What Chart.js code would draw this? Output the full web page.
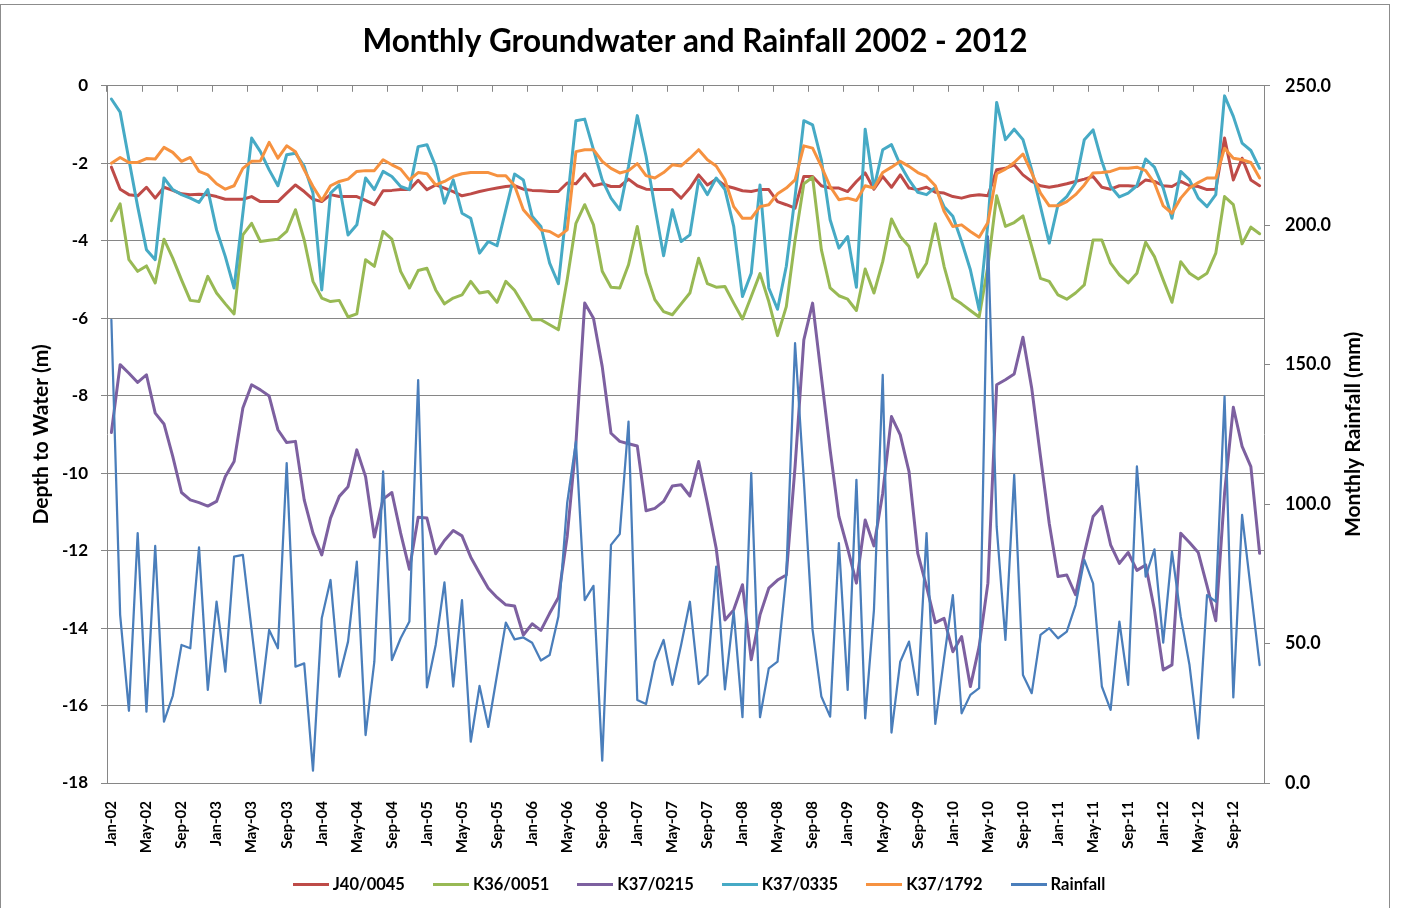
<!DOCTYPE html>
<html>
<head>
<meta charset="utf-8">
<title>Monthly Groundwater and Rainfall 2002 - 2012</title>
<script src="https://cdn.jsdelivr.net/npm/chart.js@4.4.1/dist/chart.umd.min.js"></script>
<style>
  html, body { margin: 0; padding: 0; background: #fff; }
  #wrap { position: relative; width: 1402px; height: 908px; overflow: hidden; }
  #myChart { position: absolute; left: 0; top: 0; }
  #frame { position: absolute; left: 0; top: 4px; width: 1390px; height: 910px; border: 1px solid #8c8c8c; box-sizing: border-box; pointer-events: none; }
  #legend { position: absolute; left: 0; top: 874px; width: 1398px; height: 20px; display: flex; justify-content: center; align-items: center; gap: 28px;
            font: bold 16.5px Lato, "Liberation Sans", sans-serif; color: #000; line-height: 20px; }
  #legend .item { display: flex; align-items: center; white-space: nowrap; }
  #legend .swatch { display: inline-block; width: 36px; height: 3px; margin-right: 4px; }
</style>
</head>
<body>
<div id="wrap">
  <canvas id="myChart" width="1390" height="908"></canvas>
  <div id="legend"></div>
  <div id="frame"></div>
</div>
<script>
//data

const chartTitle = 'Monthly Groundwater and Rainfall 2002 - 2012';
const depthAxisTitle = 'Depth to Water (m)';
const rainAxisTitle = 'Monthly Rainfall (mm)';

const months = [
  'Jan-02','Feb-02','Mar-02','Apr-02','May-02','Jun-02','Jul-02','Aug-02','Sep-02','Oct-02','Nov-02','Dec-02',
  'Jan-03','Feb-03','Mar-03','Apr-03','May-03','Jun-03','Jul-03','Aug-03','Sep-03','Oct-03','Nov-03','Dec-03',
  'Jan-04','Feb-04','Mar-04','Apr-04','May-04','Jun-04','Jul-04','Aug-04','Sep-04','Oct-04','Nov-04','Dec-04',
  'Jan-05','Feb-05','Mar-05','Apr-05','May-05','Jun-05','Jul-05','Aug-05','Sep-05','Oct-05','Nov-05','Dec-05',
  'Jan-06','Feb-06','Mar-06','Apr-06','May-06','Jun-06','Jul-06','Aug-06','Sep-06','Oct-06','Nov-06','Dec-06',
  'Jan-07','Feb-07','Mar-07','Apr-07','May-07','Jun-07','Jul-07','Aug-07','Sep-07','Oct-07','Nov-07','Dec-07',
  'Jan-08','Feb-08','Mar-08','Apr-08','May-08','Jun-08','Jul-08','Aug-08','Sep-08','Oct-08','Nov-08','Dec-08',
  'Jan-09','Feb-09','Mar-09','Apr-09','May-09','Jun-09','Jul-09','Aug-09','Sep-09','Oct-09','Nov-09','Dec-09',
  'Jan-10','Feb-10','Mar-10','Apr-10','May-10','Jun-10','Jul-10','Aug-10','Sep-10','Oct-10','Nov-10','Dec-10',
  'Jan-11','Feb-11','Mar-11','Apr-11','May-11','Jun-11','Jul-11','Aug-11','Sep-11','Oct-11','Nov-11','Dec-11',
  'Jan-12','Feb-12','Mar-12','Apr-12','May-12','Jun-12','Jul-12','Aug-12','Sep-12','Oct-12','Nov-12','Dec-12'
];

// depth to water (m), one value per month
const j40_0045 = [
  -2.10,-2.67,-2.81,-2.84,-2.62,-2.90,-2.62,-2.70,-2.79,-2.81,-2.80,-2.81,-2.86,-2.93,-2.93,-2.93,-2.86,-2.99,-2.99,-2.99,-2.77,-2.56,
  -2.73,-2.93,-2.99,-2.81,-2.86,-2.86,-2.86,-2.96,-3.07,-2.71,-2.70,-2.68,-2.68,-2.44,-2.68,-2.56,-2.64,-2.73,-2.84,-2.79,-2.73,-2.68,
  -2.64,-2.60,-2.58,-2.67,-2.70,-2.71,-2.73,-2.73,-2.51,-2.53,-2.27,-2.58,-2.53,-2.60,-2.60,-2.41,-2.58,-2.67,-2.68,-2.68,-2.68,
  -2.90,-2.64,-2.30,-2.56,-2.41,-2.58,-2.64,-2.71,-2.73,-2.68,-2.68,-2.99,-3.07,-3.16,-2.34,-2.34,-2.58,-2.64,-2.64,-2.73,-2.47,-2.25,
  -2.67,-2.34,-2.62,-2.30,-2.64,-2.68,-2.62,-2.75,-2.77,-2.86,-2.90,-2.84,-2.81,-2.84,-2.17,-2.13,-2.04,-2.30,-2.47,-2.58,-2.62,-2.58,
  -2.53,-2.47,-2.41,-2.34,-2.62,-2.67,-2.58,-2.58,-2.60,-2.43,-2.47,-2.58,-2.60,-2.47,-2.58,-2.60,-2.68,-2.67,-1.35,-2.43,-1.87,-2.43,-2.58
];

const k36_0051 = [
  -3.48,-3.05,-4.49,-4.79,-4.65,-5.09,-3.96,-4.45,-5.01,-5.54,-5.57,-4.92,-5.35,-5.63,-5.89,-3.85,-3.55,-4.02,-3.99,-3.96,-3.76,-3.20,
  -3.98,-5.05,-5.48,-5.57,-5.54,-5.97,-5.89,-4.49,-4.66,-3.76,-3.96,-4.79,-5.22,-4.77,-4.71,-5.27,-5.63,-5.48,-5.40,-5.05,-5.35,-5.31,
  -5.59,-5.05,-5.28,-5.65,-6.04,-6.04,-6.17,-6.30,-5.01,-3.55,-3.07,-3.59,-4.79,-5.20,-5.22,-4.62,-3.63,-4.84,-5.52,-5.83,-5.91,
  -5.63,-5.35,-4.45,-5.11,-5.20,-5.18,-5.61,-6.02,-5.44,-4.85,-5.57,-6.45,-5.70,-3.98,-2.53,-2.36,-4.23,-5.22,-5.42,-5.51,-5.80,-4.73,
  -5.35,-4.54,-3.44,-3.89,-4.15,-4.94,-4.58,-3.56,-4.66,-5.48,-5.63,-5.80,-5.97,-4.66,-2.84,-3.63,-3.53,-3.36,-4.15,-4.97,-5.05,-5.40,
  -5.51,-5.35,-5.14,-3.98,-3.98,-4.58,-4.88,-5.09,-4.84,-4.04,-4.41,-5.01,-5.59,-4.54,-4.84,-4.99,-4.84,-4.32,-2.86,-3.07,-4.08,-3.65,-3.82
];

const k37_0215 = [
  -8.95,-7.20,-7.42,-7.66,-7.46,-8.45,-8.73,-9.57,-10.50,-10.69,-10.76,-10.85,-10.73,-10.09,-9.70,-8.32,-7.72,-7.85,-8.01,-8.88,-9.21,-9.18,
  -10.69,-11.55,-12.11,-11.16,-10.60,-10.35,-9.40,-10.09,-11.65,-10.67,-10.50,-11.55,-12.48,-11.14,-11.16,-12.08,-11.74,-11.48,-11.62,-12.17,-12.58,-12.97,
  -13.21,-13.40,-13.43,-14.18,-13.89,-14.06,-13.62,-13.21,-11.64,-9.23,-5.61,-6.00,-7.25,-8.97,-9.18,-9.24,-9.30,-10.97,-10.91,-10.73,-10.33,
  -10.30,-10.59,-9.70,-10.78,-11.94,-13.79,-13.53,-12.88,-14.82,-13.66,-12.97,-12.76,-12.63,-9.83,-6.56,-5.61,-7.51,-9.40,-11.12,-11.94,-12.84,-11.21,
  -11.88,-10.52,-8.54,-9.01,-9.96,-12.07,-12.93,-13.86,-13.75,-14.61,-14.22,-15.51,-14.48,-12.84,-7.72,-7.59,-7.44,-6.49,-7.81,-9.57,-11.30,-12.67,
  -12.63,-13.14,-12.07,-11.12,-10.86,-11.85,-12.33,-12.05,-12.51,-12.37,-13.53,-15.08,-14.95,-11.55,-11.79,-12.05,-12.91,-13.81,-10.52,-8.30,-9.31,-9.83,-12.07
];

const k37_0335 = [
  -0.34,-0.68,-1.91,-3.12,-4.23,-4.49,-2.38,-2.68,-2.81,-2.90,-3.01,-2.68,-3.72,-4.41,-5.22,-3.29,-1.35,-1.70,-2.17,-2.58,-1.78,-1.74,
  -2.08,-2.77,-5.27,-2.77,-2.56,-3.85,-3.59,-2.38,-2.68,-2.21,-2.34,-2.60,-2.68,-1.57,-1.52,-2.08,-3.03,-2.43,-3.29,-3.42,-4.32,-4.02,
  -4.13,-3.20,-2.28,-2.43,-3.37,-3.63,-4.58,-5.11,-3.03,-0.90,-0.86,-1.65,-2.43,-2.90,-3.20,-2.08,-0.77,-1.82,-3.12,-4.39,-3.20,
  -4.02,-3.85,-2.43,-2.81,-2.38,-2.68,-3.63,-5.44,-4.84,-2.56,-5.22,-5.77,-4.66,-2.86,-0.90,-1.01,-1.91,-3.46,-4.19,-3.89,-5.20,-1.12,
  -2.64,-1.65,-1.52,-2.04,-2.43,-2.75,-2.81,-2.62,-3.12,-3.37,-4.02,-4.75,-5.78,-3.55,-0.43,-1.39,-1.12,-1.39,-2.17,-3.12,-4.06,-3.07,
  -2.86,-2.51,-1.39,-1.14,-1.95,-2.60,-2.87,-2.77,-2.58,-1.89,-2.10,-2.64,-3.42,-2.21,-2.43,-2.90,-3.12,-2.81,-0.26,-0.79,-1.48,-1.67,-2.13
];

const k37_1792 = [
  -2.00,-1.85,-1.98,-1.98,-1.88,-1.89,-1.59,-1.72,-1.95,-1.85,-2.21,-2.30,-2.53,-2.67,-2.58,-2.13,-1.95,-1.94,-1.46,-1.87,-1.55,-1.70,
  -2.17,-2.60,-2.96,-2.58,-2.47,-2.41,-2.21,-2.19,-2.19,-1.91,-2.04,-2.15,-2.43,-2.24,-2.27,-2.56,-2.47,-2.34,-2.27,-2.24,-2.24,-2.24,
  -2.32,-2.32,-2.58,-3.20,-3.46,-3.72,-3.76,-3.89,-3.72,-1.70,-1.65,-1.65,-1.95,-2.13,-2.25,-2.19,-2.01,-2.32,-2.38,-2.24,-2.04,
  -2.07,-1.87,-1.65,-1.91,-2.07,-2.43,-3.12,-3.42,-3.42,-3.12,-3.07,-2.79,-2.64,-2.43,-1.55,-1.61,-2.08,-2.60,-2.94,-2.90,-2.96,-2.58,
  -2.64,-2.24,-2.10,-1.95,-2.08,-2.24,-2.34,-2.58,-3.24,-3.63,-3.59,-3.76,-3.91,-3.53,-2.27,-2.15,-1.98,-1.76,-2.25,-2.77,-3.10,-3.10,
  -2.99,-2.81,-2.56,-2.25,-2.24,-2.21,-2.13,-2.13,-2.10,-2.19,-2.51,-3.10,-3.29,-2.90,-2.64,-2.50,-2.38,-2.38,-1.61,-1.87,-1.91,-1.98,-2.38
];

// monthly rainfall (mm)
const rainfall = [
  166.1,60.3,25.9,89.6,25.6,85.0,22.0,31.2,49.5,48.3,84.5,33.4,65.0,39.9,81.2,81.8,54.9,28.6,54.9,48.3,114.7,41.7,
  42.9,4.4,59.1,72.8,38.1,50.7,79.4,17.2,43.5,111.7,44.1,51.9,57.9,144.5,34.3,49.5,71.9,34.6,65.6,14.8,34.8,20.1,
  38.8,57.5,51.5,52.2,50.3,43.9,45.9,59.7,100.4,122.4,65.6,70.7,8.0,85.4,89.3,129.6,29.8,28.3,43.5,51.3,35.2,
  49.5,65.0,35.5,38.7,77.6,33.6,61.5,23.6,111.1,23.6,41.1,43.5,74.6,157.7,108.7,54.9,31.0,23.8,86.0,33.4,108.7,23.2,
  62.1,146.3,18.1,43.5,50.7,31.6,89.6,21.2,44.7,67.4,25.0,31.6,34.0,196.0,91.9,51.3,110.5,38.7,32.2,53.1,55.5,51.9,
  54.3,63.8,80.0,71.6,34.6,26.2,57.9,35.2,113.5,74.0,83.8,50.3,83.0,59.7,42.3,16.0,67.4,65.0,138.6,30.7,96.1,69.2,42.3
];

//style

const fontFamily = 'Lato, "Liberation Sans", sans-serif';
const axisGrey = '#868686';

//right axis title reads bottom to top like the left one

const rainTitlePlugin = {
  id: 'rainTitle',
  afterDraw(chart) {
    const s = chart.scales.y2;
    const ctx = chart.ctx;
    ctx.save();
    ctx.translate(s.left + 89, (s.top + s.bottom) / 2);
    ctx.rotate(-Math.PI / 2);
    ctx.font = 'bold 21px ' + fontFamily;
    ctx.fillStyle = '#000';
    ctx.textAlign = 'center';
    ctx.textBaseline = 'middle';
    ctx.fillText(rainAxisTitle, 0, 0);
    ctx.restore();
  }
};

//config

const data = {
  labels: months,
  datasets: [
    { label: 'J40/0045', data: j40_0045, borderColor: '#BE4B48', backgroundColor: '#BE4B48', borderWidth: 3, yAxisID: 'y', order: 6 },
    { label: 'K36/0051', data: k36_0051, borderColor: '#98B954', backgroundColor: '#98B954', borderWidth: 3, yAxisID: 'y', order: 5 },
    { label: 'K37/0215', data: k37_0215, borderColor: '#7D60A0', backgroundColor: '#7D60A0', borderWidth: 3, yAxisID: 'y', order: 4 },
    { label: 'K37/0335', data: k37_0335, borderColor: '#46AAC5', backgroundColor: '#46AAC5', borderWidth: 3, yAxisID: 'y', order: 3 },
    { label: 'K37/1792', data: k37_1792, borderColor: '#F69240', backgroundColor: '#F69240', borderWidth: 3, yAxisID: 'y', order: 2 },
    { label: 'Rainfall', data: rainfall, borderColor: '#4A7EBB', backgroundColor: '#4A7EBB', borderWidth: 2.25, yAxisID: 'y2', order: 1 }
  ]
};

const config = {
  type: 'line',
  data,
  options: {
    responsive: false,
    animation: false,
    devicePixelRatio: 1,
    elements: {
      point: { radius: 0 },
      line: { tension: 0, borderJoinStyle: 'round', borderCapStyle: 'round' }
    },
    layout: { padding: { top: 0, right: 0, bottom: 48, left: 0 } },
    plugins: {
      title: {
        display: true,
        text: chartTitle,
        color: '#000',
        font: { family: fontFamily, size: 31.5, weight: 'bold' },
        padding: { top: 23, bottom: 25 }
      },
      legend: { display: false },
      tooltip: { enabled: false }
    },
    scales: {
      x: {
        type: 'category',
        position: 'bottom',
        offset: true,
        grid: { display: false },
        border: { display: false },
        ticks: {
          autoSkip: false,
          minRotation: 90,
          maxRotation: 90,
          padding: 10,
          color: '#000',
          font: { family: fontFamily, size: 15, weight: 'bold' },
          callback: function (v, i) { return i % 4 === 0 ? this.getLabelForValue(v) : ''; }
        },
        afterFit: s => { s.height = 77; }
      },
      xTop: {
        type: 'category',
        position: 'top',
        offset: true,
        grid: {
          offset: true,
          drawOnChartArea: false,
          tickLength: -6,
          color: c => (c.index % 4 === 0 ? axisGrey : 'rgba(0,0,0,0)')
        },
        border: { display: false },
        ticks: { display: false },
        afterFit: s => { s.height = 0; }
      },
      y: {
        position: 'left',
        min: -18,
        max: 0,
        ticks: {
          stepSize: 2,
          padding: 13,
          color: '#000',
          font: { family: fontFamily, size: 17, weight: 'bold' }
        },
        grid: { color: axisGrey, lineWidth: 1, tickLength: 6 },
        border: { color: axisGrey },
        title: {
          display: true,
          text: depthAxisTitle,
          color: '#000',
          font: { family: fontFamily, size: 21, weight: 'bold' },
          padding: { top: 29, bottom: 0 }
        },
        afterFit: s => { s.width = 107; }
      },
      y2: {
        position: 'right',
        min: 0,
        max: 250,
        ticks: {
          stepSize: 50,
          padding: 15,
          color: '#000',
          font: { family: fontFamily, size: 18, weight: 'bold' },
          callback: v => v.toFixed(1)
        },
        grid: { drawOnChartArea: false, color: axisGrey, tickLength: 6 },
        border: { color: axisGrey },
        afterFit: s => { s.width = 126; }
      }
    }
  },
  plugins: [rainTitlePlugin]
};

//render

const myChart = new Chart(document.getElementById('myChart'), config);

//legend under the plot, built from the datasets

const legendBox = document.getElementById('legend');
myChart.data.datasets.forEach(ds => {
  const item = document.createElement('span');
  item.className = 'item';
  const swatch = document.createElement('span');
  swatch.className = 'swatch';
  swatch.style.background = ds.borderColor;
  item.appendChild(swatch);
  item.appendChild(document.createTextNode(ds.label));
  legendBox.appendChild(item);
});
</script>
</body>
</html>
